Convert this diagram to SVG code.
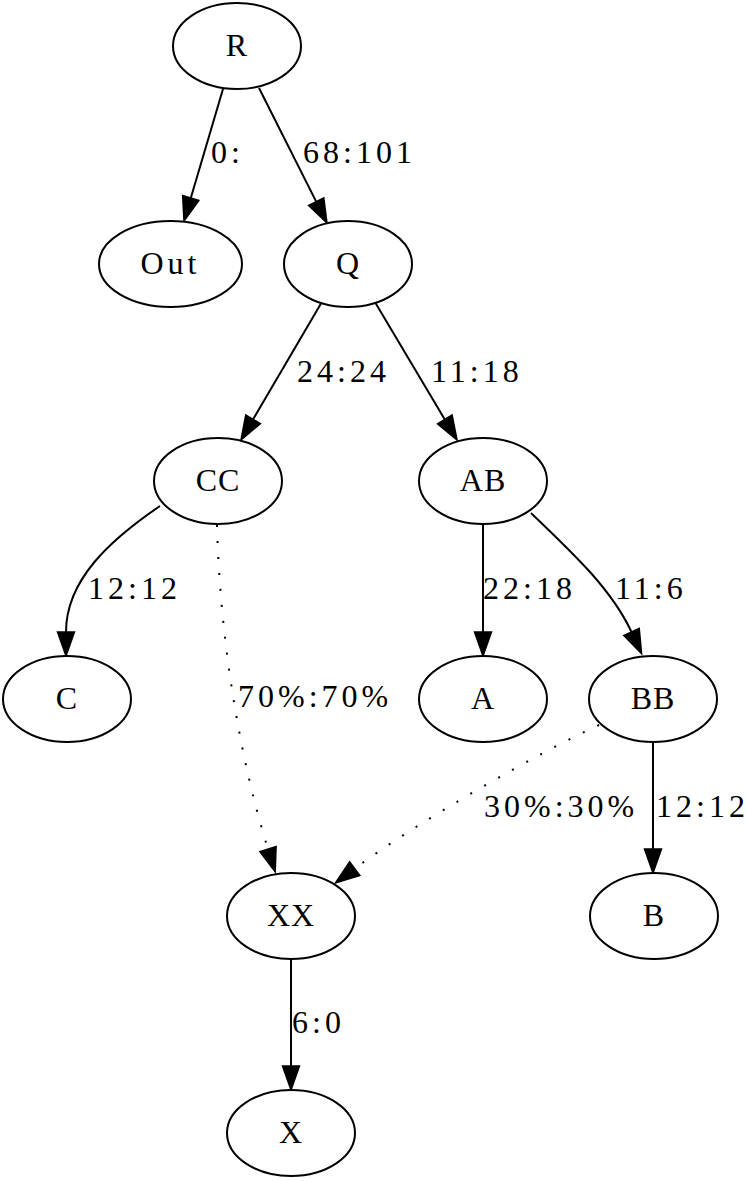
<svg xmlns="http://www.w3.org/2000/svg" width="747" height="1181" viewBox="0 0 747 1181">
<style>
.n ellipse{fill:#fff;stroke:#000;stroke-width:2}
.n text{font-family:"Liberation Serif","Times New Roman",serif;font-size:32px;text-anchor:middle;fill:#000;letter-spacing:1px}
.e path{fill:none;stroke:#000;stroke-width:2}
.e .d{stroke-dasharray:2,14}
.l{font-family:"Liberation Serif","Times New Roman",serif;font-size:32px;fill:#000;letter-spacing:4px}
.z{letter-spacing:0}
</style>
<defs>
<marker id="ah" markerUnits="userSpaceOnUse" markerWidth="26" markerHeight="19" refX="0" refY="8.5" orient="auto" overflow="visible">
<path d="M0,0 L24,8.5 L0,17 Z" fill="#000" stroke="#000" stroke-width="1.5"/>
</marker>
</defs>
<rect width="747" height="1181" fill="#fff"/>
<g id="edges" class="e">
<path d="M223,89 L190.8,198" marker-end="url(#ah)"/>
<path d="M259,88 L316.2,201.6" marker-end="url(#ah)"/>
<path d="M321,303.5 L253.1,419.3" marker-end="url(#ah)"/>
<path d="M375.5,303 L444.8,419.4" marker-end="url(#ah)"/>
<path d="M160,506 C110,540 66,580 66,632" marker-end="url(#ah)"/>
<path class="d" d="M217,525 C220,640 240,760 268,849" marker-end="url(#ah)"/>
<path d="M483,524 L483,632" marker-end="url(#ah)"/>
<path d="M531,513 C575,555 612,590 631.5,632" marker-end="url(#ah)"/>
<path class="d" d="M599,725 C540,752 420,820 354.7,868.6" marker-end="url(#ah)"/>
<path d="M653,742 L653,849" marker-end="url(#ah)"/>
<path d="M291,959 L291,1066" marker-end="url(#ah)"/>
<text class="l" x="211" y="163">0<tspan class="z">:</tspan></text>
<text class="l" x="303" y="163">68:10<tspan class="z">1</tspan></text>
<text class="l" x="297" y="382">24:2<tspan class="z">4</tspan></text>
<text class="l" x="431" y="382">11:1<tspan class="z">8</tspan></text>
<text class="l" x="88" y="599">12:1<tspan class="z">2</tspan></text>
<text class="l" x="483" y="599">22:1<tspan class="z">8</tspan></text>
<text class="l" x="615" y="599">11:<tspan class="z">6</tspan></text>
<text class="l" x="238" y="707">70%:70<tspan class="z">%</tspan></text>
<text class="l" x="484" y="817">30%:30<tspan class="z">%</tspan></text>
<text class="l" x="656" y="817">12:1<tspan class="z">2</tspan></text>
<text class="l" x="292" y="1033">6:<tspan class="z">0</tspan></text>
</g>
<g id="R" class="n"><ellipse cx="237" cy="46" rx="64" ry="43"/><text x="237" y="56">R</text></g>
<g id="Out" class="n"><ellipse cx="170.5" cy="264" rx="71.5" ry="43"/><text x="170.5" y="274" style="letter-spacing:4px">Out</text></g>
<g id="Q" class="n"><ellipse cx="348" cy="264" rx="64" ry="43"/><text x="348" y="274">Q</text></g>
<g id="CC" class="n"><ellipse cx="218" cy="481" rx="64" ry="43"/><text x="218" y="491">CC</text></g>
<g id="AB" class="n"><ellipse cx="483" cy="481" rx="64" ry="43"/><text x="483" y="491">AB</text></g>
<g id="C" class="n"><ellipse cx="67" cy="699" rx="64" ry="43"/><text x="67" y="709">C</text></g>
<g id="A" class="n"><ellipse cx="483" cy="699" rx="64" ry="43"/><text x="483" y="709">A</text></g>
<g id="BB" class="n"><ellipse cx="653" cy="699" rx="64" ry="43"/><text x="653" y="709">BB</text></g>
<g id="XX" class="n"><ellipse cx="291" cy="916" rx="64" ry="43"/><text x="291" y="926">XX</text></g>
<g id="B" class="n"><ellipse cx="654" cy="916" rx="64" ry="43"/><text x="654" y="926">B</text></g>
<g id="X" class="n"><ellipse cx="291" cy="1133" rx="64" ry="43"/><text x="291" y="1143">X</text></g>
</svg>
